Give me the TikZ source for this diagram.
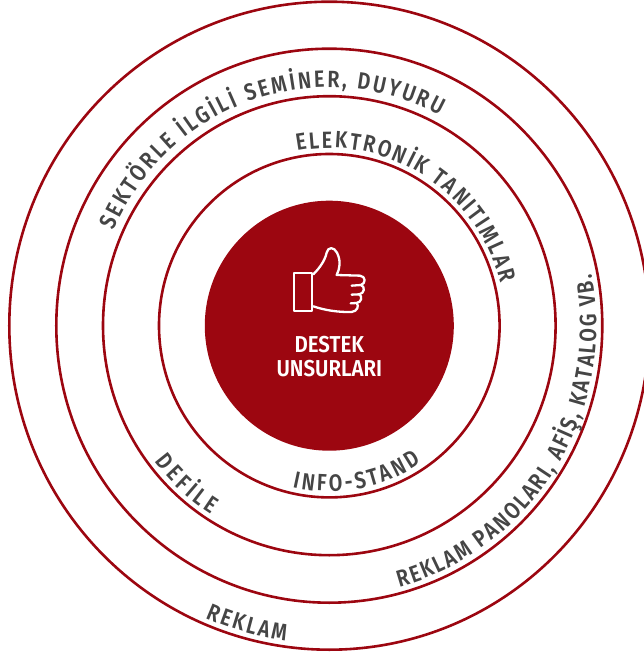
\documentclass[tikz,border=0pt]{standalone}
\usepackage{fontspec}
\setmainfont{Fira Sans}
\newfontfamily\lblfont[FakeStretch=0.84]{Fira Sans SemiBold}
\newfontfamily\corefont[FakeStretch=0.89]{Fira Sans SemiBold}
\usetikzlibrary{decorations.text}
\definecolor{ringred}{HTML}{9C0610}
\definecolor{ringtext}{HTML}{454545}
\tikzset{
  ring/.style={draw=ringred,line width=2.6pt},
  iconline/.style={draw=white,line width=2.3pt,line join=round,line cap=round},
  corelabel/.style={text=white,font=\corefont\fontsize{23}{23}\selectfont,align=center,inner sep=0pt},
  ringlabel/.style n args={1}{postaction={decorate},decoration={text along path,text align={fit to path},text={|\lblfont\fontsize{23.5}{23.5}\selectfont\color{ringtext}|#1}}}
}
\begin{document}
\begin{tikzpicture}[x=1pt,y=1pt]
\useasboundingbox (-329.3,-331.3) rectangle (314.7,325.7);
\clip (-329.3,-331.3) rectangle (314.7,325.7);
\fill[ringred] (0,0) ellipse[x radius=124.5,y radius=125];
\path[ring] (0,0) ellipse[x radius=170.3,y radius=171.7];
\path[ring] (0,0) ellipse[x radius=226.3,y radius=229.5];
\path[ring] (0,0) ellipse[x radius=273,y radius=277];
\path[ring] (0,0) ellipse[x radius=320,y radius=324];
% icon
\begin{scope}[shift={(-69.3,95.7)},x=0.3333pt,y=-0.3333pt]
\path[iconline] (103,129) rectangle (157,242);
\path[iconline] (160,133) .. controls (178,115) and (195,92) .. (200,68)
  .. controls (204,50) and (222,50) .. (231,68)
  .. controls (243,92) and (240,115) .. (230,135)
  -- (300,137) .. controls (318,139) and (318,160) .. (303,165)
  -- (275,167);
\path[iconline] (303,165) .. controls (316,170) and (314,190) .. (298,193) -- (275,194);
\path[iconline] (298,193) .. controls (308,199) and (305,217) .. (290,219) -- (272,220);
\path[iconline] (290,219) .. controls (298,228) and (292,244) .. (275,246)
  .. controls (235,247) and (195,241) .. (160,229);
\end{scope}
\node[corelabel] (destek) at (0,-19.3) {DESTEK};
\node[corelabel] (unsurlari) at (0,-42.6) {UNSURLARI};
% ring labels
\path[ringlabel={SEKTÖRLE İLGİLİ SEMİNER, DUYURU}] (156.5:235.3 and 238.5) arc[start angle=156.5,end angle=62,x radius=235.3,y radius=238.5];
\path[ringlabel={ELEKTRONİK TANITIMLAR}] (100.5:176.3 and 177.7) arc[start angle=100.5,end angle=14,x radius=176.3,y radius=177.7];
\path[ringlabel={REKLAM PANOLARI, AFİŞ, KATALOG VB.}] (-74.8:267 and 271) arc[start angle=-74.8,end angle=11,x radius=267,y radius=271];
\path[ringlabel={DEFİLE}] (217.5:220.3 and 223.5) arc[start angle=217.5,end angle=237.7,x radius=220.3,y radius=223.5];
\path[ringlabel={INFO-STAND}] (257:164.3 and 165.7) arc[start angle=257,end angle=304,x radius=164.3,y radius=165.7];
\path[ringlabel={REKLAM}] (246.8:314 and 318) arc[start angle=246.8,end angle=262,x radius=314,y radius=318];
\end{tikzpicture}
\end{document}
